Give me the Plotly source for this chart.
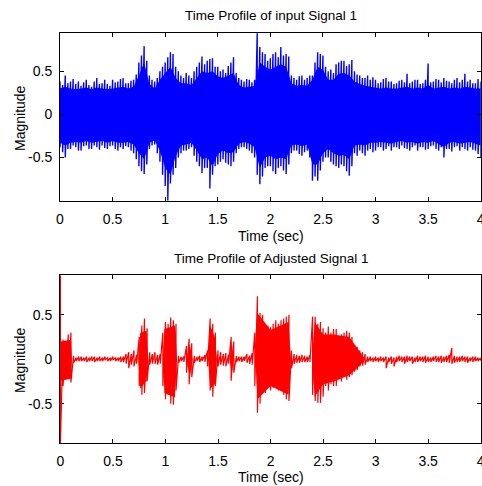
import plotly.graph_objects as go

# ---------------------------------------------------------------
# Input signal 1 (blue)
# peak envelope on a 0.025 s grid, 0 .. 4 s
# ---------------------------------------------------------------
t_in = [round(i * 0.025, 3) for i in range(161)]
in_peak_hi = [
    0.38, 0.34, 0.45, 0.36, 0.38, 0.41, 0.35, 0.38,
    0.33, 0.37, 0.40, 0.34, 0.32, 0.38, 0.42, 0.35,
    0.36, 0.40, 0.35, 0.33, 0.40, 0.37, 0.38, 0.41,
    0.42, 0.36, 0.36, 0.39, 0.40, 0.46, 0.60, 0.68,
    0.79, 0.62, 0.45, 0.40, 0.38, 0.42, 0.50, 0.55,
    0.60, 0.66, 0.72, 0.70, 0.55, 0.50, 0.45, 0.42,
    0.48, 0.45, 0.42, 0.50, 0.55, 0.60, 0.67, 0.58,
    0.62, 0.64, 0.65, 0.55, 0.55, 0.50, 0.52, 0.48,
    0.56, 0.60, 0.66, 0.48, 0.42, 0.40, 0.38, 0.41,
    0.40, 0.37, 0.40, 0.94, 0.78, 0.72, 0.70, 0.62,
    0.65, 0.70, 0.72, 0.66, 0.78, 0.68, 0.70, 0.67,
    0.45, 0.42, 0.40, 0.44, 0.45, 0.40, 0.42, 0.45,
    0.45, 0.60, 0.72, 0.70, 0.68, 0.55, 0.50, 0.52,
    0.48, 0.58, 0.60, 0.62, 0.62, 0.56, 0.58, 0.63,
    0.50, 0.46, 0.45, 0.42, 0.42, 0.45, 0.40, 0.43,
    0.40, 0.36, 0.37, 0.41, 0.42, 0.38, 0.38, 0.35,
    0.36, 0.39, 0.40, 0.37, 0.47, 0.36, 0.38, 0.40,
    0.40, 0.35, 0.36, 0.40, 0.59, 0.37, 0.38, 0.41,
    0.40, 0.37, 0.42, 0.39, 0.38, 0.36, 0.40, 0.42,
    0.37, 0.40, 0.47, 0.38, 0.40, 0.36, 0.36, 0.41,
    0.38,
]
in_peak_lo = [
    -0.38, -0.44, -0.50, -0.40, -0.40, -0.36, -0.38, -0.42,
    -0.42, -0.37, -0.36, -0.40, -0.40, -0.36, -0.38, -0.41,
    -0.36, -0.39, -0.40, -0.37, -0.36, -0.40, -0.42, -0.38,
    -0.40, -0.37, -0.38, -0.42, -0.45, -0.52, -0.60, -0.66,
    -0.69, -0.58, -0.40, -0.36, -0.35, -0.45, -0.55, -0.70,
    -0.83, -1.00, -0.80, -0.70, -0.62, -0.50, -0.45, -0.42,
    -0.42, -0.40, -0.38, -0.48, -0.55, -0.60, -0.68, -0.62,
    -0.62, -0.86, -0.70, -0.60, -0.58, -0.55, -0.52, -0.56,
    -0.58, -0.60, -0.55, -0.45, -0.40, -0.38, -0.38, -0.40,
    -0.42, -0.45, -0.50, -0.70, -0.81, -0.72, -0.62, -0.60,
    -0.60, -0.66, -0.69, -0.62, -0.60, -0.65, -0.69, -0.58,
    -0.45, -0.42, -0.42, -0.46, -0.48, -0.44, -0.42, -0.50,
    -0.77, -0.72, -0.77, -0.65, -0.55, -0.50, -0.50, -0.55,
    -0.58, -0.60, -0.62, -0.58, -0.60, -0.66, -0.71, -0.60,
    -0.45, -0.48, -0.42, -0.45, -0.48, -0.42, -0.40, -0.44,
    -0.42, -0.38, -0.38, -0.42, -0.40, -0.37, -0.42, -0.38,
    -0.38, -0.40, -0.36, -0.39, -0.40, -0.42, -0.38, -0.36,
    -0.42, -0.38, -0.38, -0.41, -0.40, -0.37, -0.36, -0.40,
    -0.42, -0.38, -0.50, -0.40, -0.40, -0.43, -0.38, -0.37,
    -0.42, -0.38, -0.40, -0.42, -0.38, -0.41, -0.42, -0.46,
    -0.50,
]
# dense body of the input waveform on a 0.05 s grid
t_in_body = [round(i * 0.05, 2) for i in range(81)]
in_body_hi = [
    0.30, 0.32, 0.30, 0.29, 0.30, 0.31, 0.29, 0.31, 0.30, 0.29,
    0.30, 0.31, 0.32, 0.30, 0.32, 0.45, 0.60, 0.35, 0.30, 0.40,
    0.48, 0.55, 0.42, 0.36, 0.36, 0.34, 0.42, 0.50, 0.48, 0.50,
    0.44, 0.42, 0.45, 0.48, 0.34, 0.31, 0.32, 0.33, 0.60, 0.55,
    0.52, 0.55, 0.58, 0.55, 0.36, 0.33, 0.34, 0.33, 0.40, 0.55,
    0.52, 0.40, 0.40, 0.47, 0.48, 0.45, 0.38, 0.35, 0.33, 0.32,
    0.31, 0.30, 0.31, 0.30, 0.30, 0.31, 0.32, 0.30, 0.31, 0.30,
    0.34, 0.30, 0.31, 0.32, 0.30, 0.31, 0.30, 0.32, 0.31, 0.30,
    0.30,
]
in_body_lo = [
    -0.33, -0.36, -0.33, -0.32, -0.33, -0.31, -0.33, -0.32, -0.31, -0.33,
    -0.31, -0.33, -0.33, -0.32, -0.35, -0.45, -0.52, -0.33, -0.30, -0.42,
    -0.62, -0.70, -0.48, -0.36, -0.35, -0.33, -0.42, -0.52, -0.50, -0.60,
    -0.46, -0.42, -0.45, -0.44, -0.34, -0.32, -0.34, -0.38, -0.62, -0.50,
    -0.48, -0.52, -0.50, -0.52, -0.36, -0.35, -0.37, -0.35, -0.58, -0.58,
    -0.45, -0.40, -0.45, -0.48, -0.47, -0.52, -0.36, -0.35, -0.36, -0.33,
    -0.33, -0.32, -0.33, -0.34, -0.32, -0.31, -0.33, -0.32, -0.34, -0.32,
    -0.33, -0.31, -0.34, -0.38, -0.33, -0.32, -0.34, -0.33, -0.32, -0.34,
    -0.36,
]

# ---------------------------------------------------------------
# Adjusted signal 1 (red)
# ---------------------------------------------------------------
t_adj = [round(i * 0.025, 3) for i in range(161)]
adj_peak_hi = [
    0.945, 0.22, 0.18, 0.28, 0.30, 0.04, 0.02, 0.03,
    0.03, 0.02, 0.03, 0.02, 0.03, 0.03, 0.02, 0.03,
    0.02, 0.03, 0.02, 0.02, 0.03, 0.02, 0.02, 0.03,
    0.03, 0.06, 0.08, 0.06, 0.10, 0.05, 0.25, 0.38,
    0.46, 0.35, 0.08, 0.06, 0.08, 0.05, 0.06, 0.30,
    0.42, 0.40, 0.47, 0.44, 0.40, 0.04, 0.03, 0.03,
    0.15, 0.23, 0.18, 0.04, 0.03, 0.04, 0.03, 0.05,
    0.10, 0.46, 0.40, 0.30, 0.10, 0.08, 0.06, 0.07,
    0.05, 0.25, 0.20, 0.04, 0.03, 0.03, 0.03, 0.06,
    0.04, 0.07, 0.30, 0.71, 0.52, 0.50, 0.40, 0.38,
    0.36, 0.40, 0.44, 0.40, 0.44, 0.46, 0.48, 0.50,
    0.10, 0.06, 0.05, 0.04, 0.05, 0.04, 0.03, 0.05,
    0.48, 0.48, 0.40, 0.42, 0.35, 0.30, 0.37, 0.30,
    0.34, 0.34, 0.25, 0.28, 0.30, 0.32, 0.30, 0.25,
    0.16, 0.14, 0.10, 0.08, 0.06, 0.03, 0.03, 0.02,
    0.03, 0.02, 0.03, 0.02, 0.03, 0.02, 0.03, 0.02,
    0.03, 0.04, 0.03, 0.03, 0.04, 0.03, 0.03, 0.02,
    0.04, 0.03, 0.03, 0.04, 0.03, 0.02, 0.03, 0.04,
    0.03, 0.04, 0.03, 0.04, 0.05, 0.13, 0.04, 0.03,
    0.03, 0.04, 0.03, 0.03, 0.02, 0.03, 0.03, 0.02,
    0.02,
]
adj_peak_lo = [
    -0.945, -0.30, -0.20, -0.22, -0.26, -0.04, -0.02, -0.02,
    -0.02, -0.02, -0.03, -0.02, -0.02, -0.03, -0.02, -0.02,
    -0.02, -0.01, -0.02, -0.02, -0.01, -0.02, -0.02, -0.03,
    -0.03, -0.05, -0.10, -0.06, -0.08, -0.05, -0.30, -0.40,
    -0.38, -0.25, -0.06, -0.05, -0.05, -0.06, -0.05, -0.30,
    -0.45, -0.40, -0.50, -0.51, -0.35, -0.04, -0.02, -0.03,
    -0.15, -0.28, -0.20, -0.04, -0.02, -0.03, -0.02, -0.03,
    -0.08, -0.35, -0.42, -0.30, -0.08, -0.06, -0.07, -0.08,
    -0.05, -0.24, -0.15, -0.03, -0.02, -0.03, -0.02, -0.04,
    -0.05, -0.06, -0.30, -0.60, -0.50, -0.38, -0.38, -0.32,
    -0.35, -0.32, -0.32, -0.35, -0.30, -0.40, -0.45, -0.47,
    -0.10, -0.05, -0.04, -0.04, -0.03, -0.03, -0.03, -0.03,
    -0.40, -0.47, -0.49, -0.49, -0.42, -0.30, -0.35, -0.28,
    -0.30, -0.30, -0.22, -0.25, -0.18, -0.23, -0.20, -0.18,
    -0.14, -0.12, -0.08, -0.07, -0.06, -0.03, -0.02, -0.03,
    -0.02, -0.03, -0.02, -0.03, -0.10, -0.03, -0.05, -0.08,
    -0.03, -0.02, -0.03, -0.05, -0.03, -0.02, -0.05, -0.03,
    -0.03, -0.02, -0.03, -0.04, -0.03, -0.03, -0.02, -0.03,
    -0.03, -0.04, -0.03, -0.03, -0.04, -0.05, -0.04, -0.03,
    -0.03, -0.02, -0.03, -0.04, -0.02, -0.03, -0.02, -0.02,
    -0.02,
]
# dense body of the speech bursts (zero between bursts)
t_adj_body = [
    0.000, 0.100, 0.110, 0.740, 0.760, 0.820, 0.835, 0.975, 0.990, 1.090,
    1.110, 1.200, 1.230, 1.260, 1.405, 1.425, 1.470, 1.490, 1.610, 1.630,
    1.650, 1.855, 1.875, 2.000, 2.170, 2.195, 2.395, 2.420, 2.500, 2.600,
    2.750, 2.850, 2.900, 4.000,
]
adj_body_hi = [
    0.20, 0.22, 0.00, 0.00, 0.30, 0.32, 0.00, 0.00, 0.34, 0.38,
    0.00, 0.00, 0.17, 0.00, 0.00, 0.38, 0.25, 0.00, 0.00, 0.20,
    0.00, 0.00, 0.52, 0.33, 0.42, 0.00, 0.00, 0.42, 0.28, 0.28,
    0.25, 0.09, 0.00, 0.00,
]
adj_body_lo = [
    -0.24, -0.22, 0.00, 0.00, -0.33, -0.24, 0.00, 0.00, -0.38, -0.43,
    0.00, 0.00, -0.20, 0.00, 0.00, -0.33, -0.28, 0.00, 0.00, -0.17,
    0.00, 0.00, -0.45, -0.30, -0.40, 0.00, 0.00, -0.42, -0.28, -0.25,
    -0.18, -0.07, 0.00, 0.00,
]

x_ticks = [0, 0.5, 1, 1.5, 2, 2.5, 3, 3.5, 4]
x_ticktext = ["0", "0.5", "1", "1.5", "2", "2.5", "3", "3.5", "4"]
y_ticks = [-0.5, 0, 0.5]
y_ticktext = ["-0.5", "0", "0.5"]

FONT = "Liberation Sans, Arial, Helvetica, sans-serif"
W, H = 482, 486


def body(t, hi, lo, color, xa, ya):
    """Solid band between the lower and upper body limits."""
    return go.Scatter(
        x=list(t) + list(t)[::-1],
        y=list(hi) + list(lo)[::-1],
        fill="toself", fillcolor=color, mode="lines",
        line=dict(color=color, width=0),
        xaxis=xa, yaxis=ya, hoverinfo="skip", showlegend=False,
    )


def swing(t, hi, lo, color, xa, ya, width):
    """Waveform trace swinging between the peak values at each time step."""
    xs, ys = [], []
    for ti, h, l in zip(t, hi, lo):
        xs += [ti, ti]
        ys += [h, l]
    return go.Scatter(
        x=xs, y=ys, mode="lines",
        line=dict(color=color, width=width),
        xaxis=xa, yaxis=ya, hoverinfo="skip", showlegend=False,
    )


fig = go.Figure()
fig.add_trace(body(t_in_body, in_body_hi, in_body_lo, "#0000FF", "x", "y"))
fig.add_trace(swing(t_in, in_peak_hi, in_peak_lo, "#0000FF", "x", "y", 1.4))
fig.add_trace(body(t_adj_body, adj_body_hi, adj_body_lo, "#FF0000", "x2", "y2"))
fig.add_trace(swing(t_adj, adj_peak_hi, adj_peak_lo, "#FF0000", "x2", "y2", 1.2))

x_left, x_right = 60 / W, 480.7 / W
top_dom = [(H - 200.7) / H, (H - 33) / H]
bot_dom = [(H - 443.3) / H, (H - 275.3) / H]

axis_common = dict(
    showgrid=False,
    zeroline=False,
    showline=True,
    linecolor="black",
    linewidth=1,
    mirror="ticks",
    ticks="inside",
    ticklen=4,
    tickcolor="black",
    automargin=False,
    ticklabeloverflow="allow",
    tickfont=dict(family=FONT, size=14, color="black"),
)

fig.update_layout(
    width=W,
    height=H,
    margin=dict(l=0, r=0, t=0, b=0),
    paper_bgcolor="white",
    plot_bgcolor="white",
    xaxis=dict(domain=[x_left, x_right], range=[0, 4], anchor="y",
               tickvals=x_ticks, ticktext=x_ticktext, ticklabelstandoff=5, **axis_common),
    yaxis=dict(domain=top_dom, range=[-1.0, 0.942], anchor="x",
               tickvals=y_ticks, ticktext=y_ticktext, ticklabelstandoff=4, **axis_common),
    xaxis2=dict(domain=[x_left, x_right], range=[-0.004, 4], anchor="y2",
                tickvals=x_ticks, ticktext=x_ticktext, ticklabelstandoff=5,
                layer="below traces", **axis_common),
    yaxis2=dict(domain=bot_dom, range=[-0.945, 0.945], anchor="x2",
                tickvals=y_ticks, ticktext=y_ticktext, ticklabelstandoff=4,
                layer="below traces", **axis_common),
)

cx = 271 / W
labels = [
    ("Time Profile of input Signal 1", cx, 16, 0, 13.5),
    ("Time (sec)", cx, 236, 0, 14),
    ("Time Profile of Adjusted Signal 1", cx, 258, 0, 13.5),
    ("Time (sec)", cx, 477, 0, 14),
    ("Magnitude", 20 / W, 118, -90, 14),
    ("Magnitude", 20 / W, 360, -90, 14),
]
for text, x, y, ang, size in labels:
    fig.add_annotation(
        text=text, x=x, y=(H - y) / H, xref="paper", yref="paper",
        showarrow=False, font=dict(family=FONT, size=size, color="black"),
        textangle=ang, xanchor="center", yanchor="middle",
    )

fig.write_html("out.html")
